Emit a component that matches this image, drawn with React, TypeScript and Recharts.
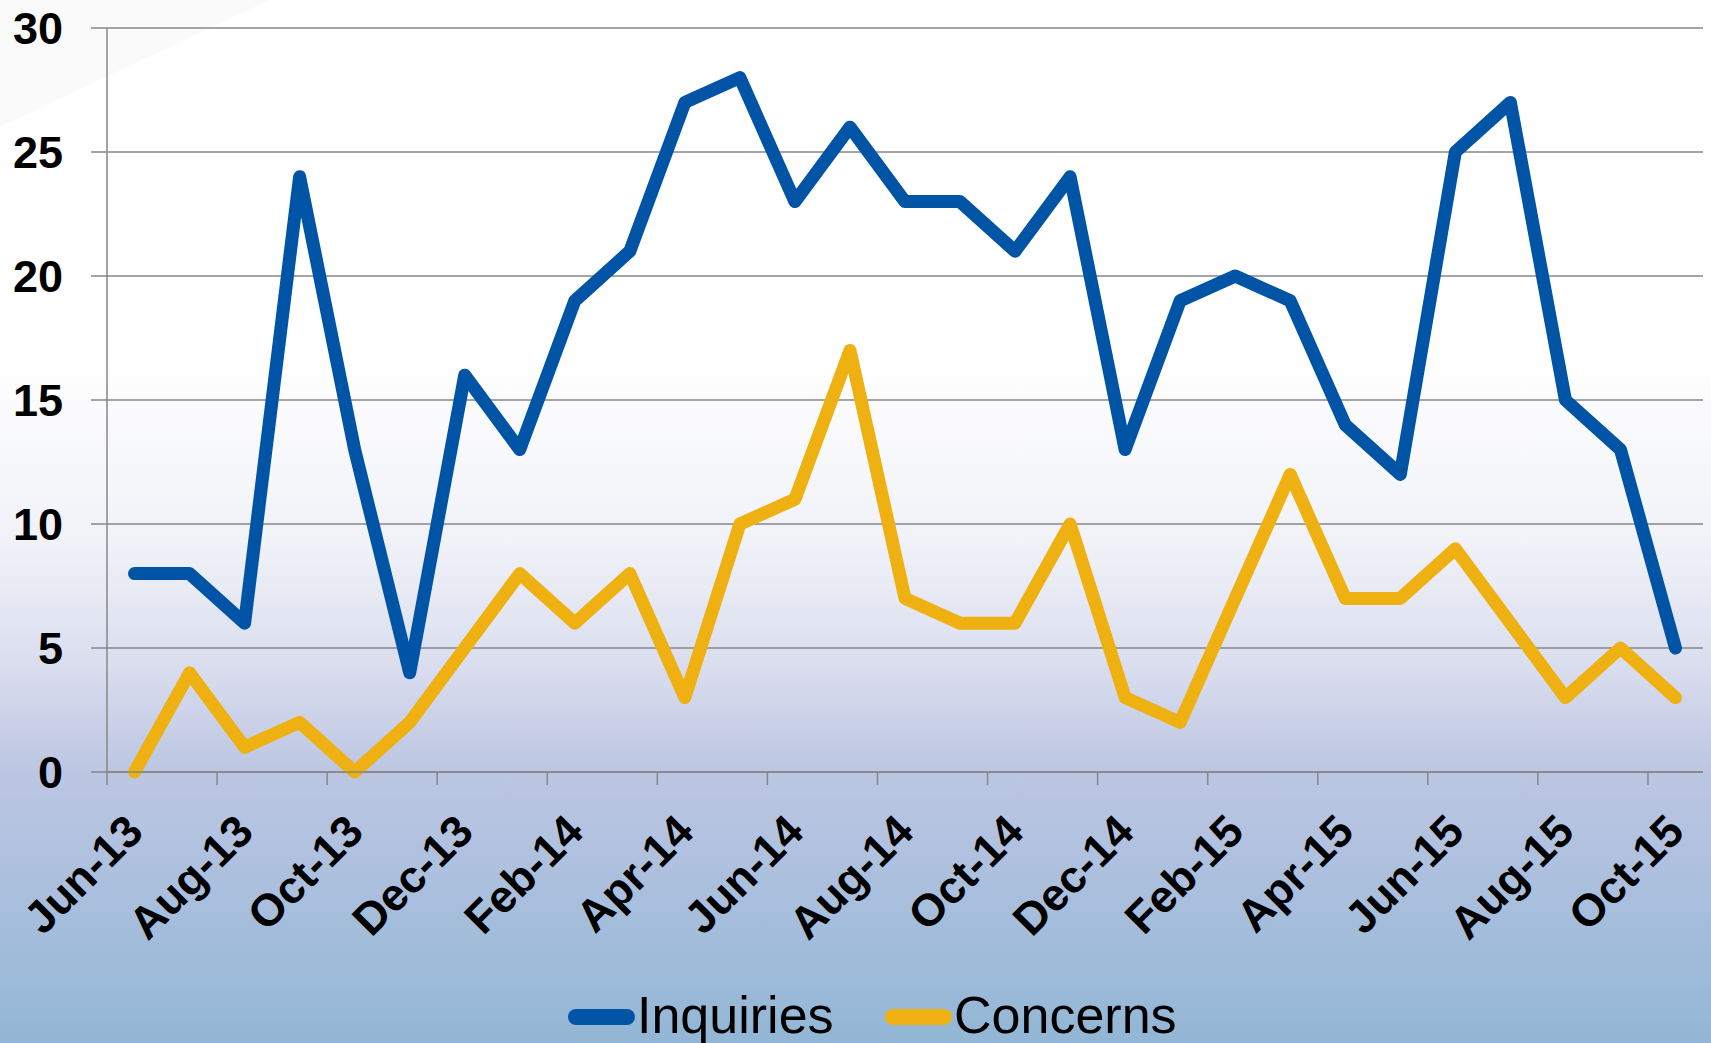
import React from 'react';
import { LineChart, Line, XAxis, YAxis, CartesianGrid, Legend } from 'recharts';

const months = [
  'Jun-13', 'Jul-13', 'Aug-13', 'Sep-13', 'Oct-13', 'Nov-13', 'Dec-13',
  'Jan-14', 'Feb-14', 'Mar-14', 'Apr-14', 'May-14', 'Jun-14', 'Jul-14',
  'Aug-14', 'Sep-14', 'Oct-14', 'Nov-14', 'Dec-14', 'Jan-15', 'Feb-15',
  'Mar-15', 'Apr-15', 'May-15', 'Jun-15', 'Jul-15', 'Aug-15', 'Sep-15', 'Oct-15',
];
const inquiries = [8, 8, 6, 24, 13, 4, 16, 13, 19, 21, 27, 28, 23, 26, 23, 23, 21, 24, 13, 19, 20, 19, 14, 12, 25, 27, 15, 13, 5];
const concerns = [0, 4, 1, 2, 0, 2, 5, 8, 6, 8, 3, 10, 11, 17, 7, 6, 6, 10, 3, 2, 7, 12, 7, 7, 9, 6, 3, 5, 3];
const yTicks = [0, 5, 10, 15, 20, 25, 30];
const seriesNames = ['Inquiries', 'Concerns'];
const seriesColors = ['#0054A6', '#EEB111'];

const data = months.map((m, i) => ({ month: m, Inquiries: inquiries[i], Concerns: concerns[i] }));

const W = 1711;
const H = 1043;
const FONT = '"Liberation Sans", Arial, sans-serif';
const GRID = '#878787';

function XTick(props: any) {
  const { x, y, payload } = props;
  const half = payload && typeof payload.offset === 'number' && payload.offset > 0 ? payload.offset : 27.5;
  const ax = x + 11;
  const ay = y + 62;
  return (
    <g>
      <line x1={x - half} y1={y} x2={x - half} y2={y + 13} stroke={GRID} strokeWidth={1.5} />
      <text
        x={ax}
        y={ay}
        transform={`rotate(-45, ${ax}, ${ay})`}
        textAnchor="end"
        fontFamily={FONT}
        fontWeight="bold"
        fontSize={45}
        fill="#000"
      >
        {payload.value}
      </text>
    </g>
  );
}

function LegendContent() {
  const items = [
    { name: seriesNames[0], color: seriesColors[0], lineLeft: 568, textLeft: 637 },
    { name: seriesNames[1], color: seriesColors[1], lineLeft: 885, textLeft: 954 },
  ];
  return (
    <div style={{ position: 'relative', width: W, height: 70 }}>
      {items.map((it) => (
        <React.Fragment key={it.name}>
          <div
            style={{
              position: 'absolute',
              left: it.lineLeft,
              top: 36,
              width: 67,
              height: 16,
              borderRadius: 8,
              background: it.color,
            }}
          />
          <div
            style={{
              position: 'absolute',
              left: it.textLeft,
              top: 16,
              fontFamily: FONT,
              fontSize: 52,
              lineHeight: '52px',
              color: '#000',
              whiteSpace: 'nowrap',
            }}
          >
            {it.name}
          </div>
        </React.Fragment>
      ))}
    </div>
  );
}

export default function App() {
  return (
    <div
      style={{
        position: 'absolute',
        left: 0,
        top: 0,
        width: W,
        height: H,
        overflow: 'hidden',
        background:
          'linear-gradient(to bottom, #ffffff 0%, #ffffff 34%, #f1f2f8 52%, #d9ddee 64%, #bcc6e2 74%, #a9bfdd 86%, #92b6d5 100%)',
      }}
    >
      <div
        style={{
          position: 'absolute',
          left: 0,
          top: 0,
          width: 280,
          height: 135,
          background: 'rgba(0,0,0,0.018)',
          clipPath: 'polygon(0 0, 270px 0, 0 127px)',
        }}
      />
      <div style={{ position: 'absolute', left: 0, top: 0 }}>
        <LineChart width={W} height={H} data={data} margin={{ top: 28, right: 8, left: 0, bottom: 0 }}>
          <CartesianGrid vertical={false} stroke={GRID} strokeWidth={1.5} />
          <XAxis
            dataKey="month"
            scale="band"
            interval={1}
            height={201}
            tickSize={0}
            tickMargin={0}
            tickLine={false}
            axisLine={{ stroke: GRID, strokeWidth: 1.5 }}
            tick={<XTick />}
          />
          <YAxis
            domain={[0, 30]}
            ticks={yTicks}
            width={107}
            tickSize={16}
            tickMargin={28}
            axisLine={{ stroke: GRID, strokeWidth: 1.5 }}
            tickLine={{ stroke: GRID, strokeWidth: 1.5 }}
            tick={{ fontFamily: FONT, fontWeight: 'bold', fontSize: 45, fill: '#000' }}
          />
          <Legend
            verticalAlign="bottom"
            height={70}
            wrapperStyle={{ left: 0, bottom: 0, width: W, height: 70 }}
            content={() => <LegendContent />}
          />
          <Line
            type="linear"
            dataKey="Inquiries"
            stroke={seriesColors[0]}
            strokeWidth={13}
            strokeLinejoin="round"
            strokeLinecap="round"
            dot={false}
            isAnimationActive={false}
          />
          <Line
            type="linear"
            dataKey="Concerns"
            stroke={seriesColors[1]}
            strokeWidth={13}
            strokeLinejoin="round"
            strokeLinecap="round"
            dot={false}
            isAnimationActive={false}
          />
        </LineChart>
      </div>
    </div>
  );
}
